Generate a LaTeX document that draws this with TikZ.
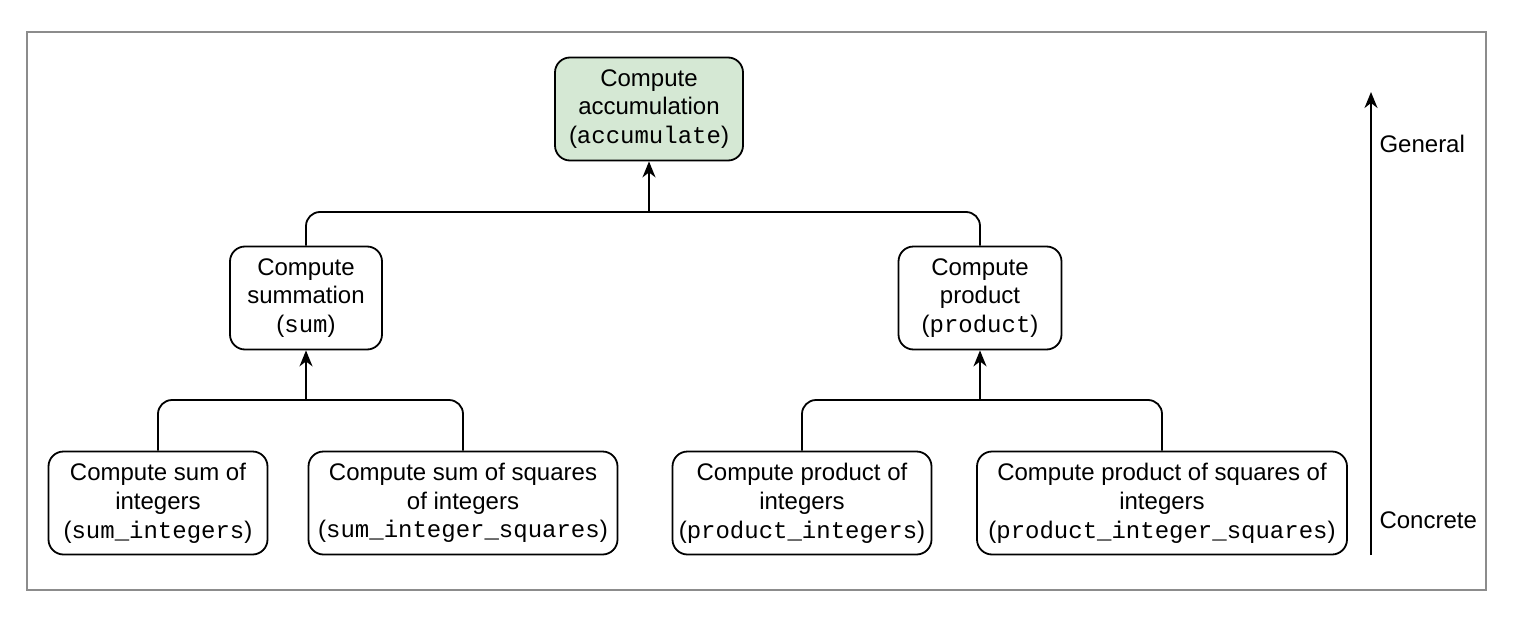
\documentclass[tikz,border=0pt]{standalone}
\usepackage{fontspec}
\setmainfont{Liberation Sans}
\setmonofont{Liberation Mono}
\usetikzlibrary{arrows.meta}
\definecolor{accgreen}{HTML}{D5E8D4}
\definecolor{framegray}{HTML}{8C8C8C}
\tikzstyle{block} = [rectangle, draw, line width=1.8pt, rounded corners=15pt,
    align=center, inner sep=2pt, minimum height=103pt,
    font=\fontsize{24}{28.8}\selectfont]
\tikzstyle{line} = [draw, line width=1.8pt, -{Stealth[length=16pt,width=13pt,inset=5pt]}]
\tikzstyle{bus} = [draw, line width=1.8pt, rounded corners=14pt]

\begin{document}
\begin{tikzpicture}[x=1pt, y=1pt]
		\useasboundingbox (0,0) rectangle (1513,-629);
		\draw [framegray, line width=1.5pt] (27,-32) rectangle (1486,-590);

		\node [block, fill=accgreen, minimum width=188pt] (accum) at (649,-109) {Compute\\accumulation\\(\texttt{accumulate})};
		\node [block, minimum width=152pt] (summ) at (306,-298) {Compute\\summation\\(\texttt{sum})};
		\node [block, right of=summ, node distance=674pt, minimum width=163pt] (prod) {Compute\\product\\(\texttt{product})};
		\node [block, minimum width=219pt] (sumint) at (158,-503) {Compute sum of\\integers\\(\texttt{sum\_integers})};
		\node [block, right of=sumint, node distance=305pt, minimum width=309pt] (sumsq) {Compute sum of squares\\of integers\\(\texttt{sum\_integer\_squares})};
		\node [block, minimum width=259pt] (prodint) at (802,-503) {Compute product of\\integers\\(\texttt{product\_integers})};
		\node [block, right of=prodint, node distance=360pt, minimum width=370pt] (prodsq) {Compute product of squares of\\integers\\(\texttt{product\_integer\_squares})};

		\coordinate (topjoin) at (accum.south |- 0,-212);
		\coordinate (sumjoin) at (summ.south |- 0,-400);
		\coordinate (prodjoin) at (prod.south |- 0,-400);

		\path [bus] (summ.north) |- (topjoin) -| (prod.north);
		\path [line] (topjoin) -- (accum.south);
		\path [bus] (sumint.north) |- (sumjoin) -| (sumsq.north);
		\path [line] (sumjoin) -- (summ.south);
		\path [bus] (prodint.north) |- (prodjoin) -| (prodsq.north);
		\path [line] (prodjoin) -- (prod.south);

		% scale from concrete to general
		\coordinate (low) at (1371,-555);
		\coordinate (high) at (1371,-92);
		\path [line] (low) -- (high);
		\node [anchor=west, font=\fontsize{24}{28.8}\selectfont] (general) at (1376,-144) {General};
		\node [anchor=west, font=\fontsize{24}{28.8}\selectfont] (concrete) at (1376,-520) {Concrete};
	\end{tikzpicture}
\end{document}
